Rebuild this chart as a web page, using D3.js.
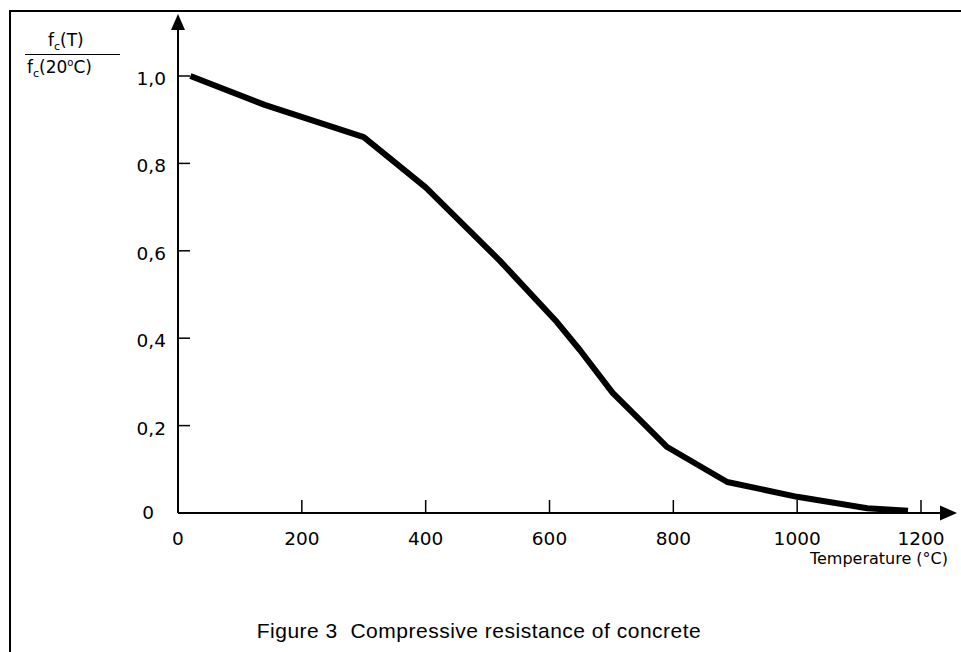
<!DOCTYPE html>
<html>
<head>
<meta charset="utf-8">
<script src="https://cdn.jsdelivr.net/npm/d3@7"></script>
<style>
  html, body { margin: 0; padding: 0; background: #fff; }
  svg { display: block; }
  text { font-family: "DejaVu Sans", Verdana, sans-serif; fill: #000; }
  .cap { font-family: "Liberation Sans", Arial, Helvetica, sans-serif; }
</style>
</head>
<body>
<svg id="chart" width="961" height="652"></svg>
<script>
// ---- data ----
const temperatures = [20, 140, 300, 400, 520, 612, 649, 702, 746, 790, 887, 1000, 1113, 1179];
const strengthRatio = [1.0, 0.934, 0.86, 0.745, 0.577, 0.437, 0.373, 0.275, 0.213, 0.151, 0.071, 0.037, 0.011, 0.005];
const xTicks = [0, 200, 400, 600, 800, 1000, 1200];
const yTicks = [0, 0.2, 0.4, 0.6, 0.8, 1.0];
const yTickLabels = ["0", "0,2", "0,4", "0,6", "0,8", "1,0"];
const xTitle = "Temperature (°C)";
const caption = "Figure 3\u00a0\u00a0Compressive resistance of concrete";

// ---- layout ----
const svg = d3.select("#chart");
const x = d3.scaleLinear().domain([0, 1200]).range([178, 921]);
const y = d3.scaleLinear().domain([0, 1]).range([513, 76]);

// frame
svg.append("path")
  .attr("d", "M10,652 V11 H961")
  .attr("fill", "none").attr("stroke", "#000").attr("stroke-width", 2);

// x axis line + arrow
svg.append("line")
  .attr("x1", x(0)).attr("x2", 944).attr("y1", y(0)).attr("y2", y(0))
  .attr("stroke", "#000").attr("stroke-width", 2);
svg.append("path")
  .attr("d", `M957,${y(0)} L940,${y(0) - 7.5} L940,${y(0) + 7.5} Z`)
  .attr("fill", "#000");

// y axis line + arrow
svg.append("line")
  .attr("x1", x(0)).attr("x2", x(0)).attr("y1", y(0)).attr("y2", 28)
  .attr("stroke", "#000").attr("stroke-width", 2);
svg.append("path")
  .attr("d", `M${x(0)},14 L${x(0) - 7},30 L${x(0) + 7},30 Z`)
  .attr("fill", "#000");

// x ticks
svg.selectAll(".xt").data(xTicks.filter(d => d > 0)).enter().append("line")
  .attr("x1", d => x(d)).attr("x2", d => x(d))
  .attr("y1", y(0)).attr("y2", y(0) - 13)
  .attr("stroke", "#000").attr("stroke-width", 1.5);
svg.selectAll(".xl").data(xTicks).enter().append("text")
  .attr("x", d => x(d)).attr("y", 545)
  .attr("text-anchor", "middle")
  .attr("font-size", 18.5)
  .text(d => d);

// y ticks
svg.selectAll(".yt").data(yTicks.filter(d => d > 0)).enter().append("line")
  .attr("x1", x(0)).attr("x2", x(0) + 12)
  .attr("y1", d => y(d)).attr("y2", d => y(d))
  .attr("stroke", "#000").attr("stroke-width", 1.5);
svg.selectAll(".yl").data(yTicks).enter().append("text")
  .attr("x", (d, i) => d === 0 ? 154 : 166)
  .attr("y", d => d === 0 ? y(d) + 6 : y(d) + 9)
  .attr("text-anchor", "end")
  .attr("font-size", 18.5)
  .text((d, i) => yTickLabels[i]);

// y axis title (fraction)
const ytitle = svg.append("g");
const numer = ytitle.append("text").attr("x", 48).attr("y", 46).attr("font-size", 17);
numer.append("tspan").text("f");
numer.append("tspan").attr("font-size", 11).attr("dy", 4).text("c");
numer.append("tspan").attr("dy", -4).text("(T)");
ytitle.append("line").attr("x1", 25).attr("x2", 120).attr("y1", 54.5).attr("y2", 54.5)
  .attr("stroke", "#000").attr("stroke-width", 1.2);
const denom = ytitle.append("text").attr("x", 27).attr("y", 73).attr("font-size", 17);
denom.append("tspan").text("f");
denom.append("tspan").attr("font-size", 11).attr("dy", 4).text("c");
denom.append("tspan").attr("dy", -4).text("(20");
denom.append("tspan").attr("font-size", 10).attr("dy", -7).text("o");
denom.append("tspan").attr("dy", 7).text("C)");

// x axis title
svg.append("text")
  .attr("x", 948).attr("y", 564)
  .attr("text-anchor", "end")
  .attr("font-size", 16)
  .text(xTitle);

// curve
const pts = temperatures.map((t, i) => [t, strengthRatio[i]]);
svg.append("path")
  .datum(pts)
  .attr("fill", "none")
  .attr("stroke", "#000")
  .attr("stroke-width", 6)
  .attr("stroke-linejoin", "round")
  .attr("d", d3.line().x(d => x(d[0])).y(d => y(d[1])).curve(d3.curveLinear));

// caption
svg.append("text")
  .attr("class", "cap")
  .attr("x", 479).attr("y", 638)
  .attr("text-anchor", "middle")
  .attr("font-size", 21)
  .attr("letter-spacing", 0.5)
  .text(caption);
</script>
</body>
</html>
